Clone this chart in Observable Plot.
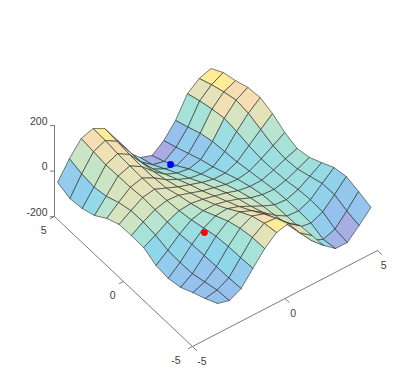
<!DOCTYPE html>
<html><head><meta charset="utf-8">
<style>html,body{margin:0;padding:0;background:#fff}svg{display:block}</style>
<script src="https://cdn.jsdelivr.net/npm/d3@7"></script>
<script src="https://cdn.jsdelivr.net/npm/@observablehq/plot@0.6"></script>
</head><body>
<script>
// surface grid: row = y index (front to back), column = x index (left to right)
const gridStep = 10 / 13;
const zRows = [
[-92,-105,-82,-26,28,68,79,46,-18,-83,-120,-121,-78,-30],
[-105,-96,-72,-16,40,72,68,24,-40,-96,-116,-100,-52,1],
[-114,-96,-60,-4,44,68,52,8,-40,-76,-84,-64,-20,28],
[-126,-96,-48,4,40,52,32,0,-36,-64,-68,-48,-8,31],
[-123,-84,-36,4,28,32,16,-8,-32,-52,-56,-40,-12,18],
[-104,-68,-28,4,16,16,4,-12,-32,-44,-48,-36,-16,6],
[-65,-40,-12,8,12,4,-8,-20,-36,-44,-44,-28,-8,9],
[-50,-20,4,16,12,-4,-20,-32,-44,-48,-40,-16,12,40],
[-38,-8,20,28,8,-12,-28,-44,-56,-56,-36,4,44,83],
[-47,-8,28,40,16,-16,-40,-60,-68,-64,-28,28,76,114],
[-68,-16,40,56,28,-16,-52,-72,-80,-68,-20,48,96,122],
[-73,-12,52,72,44,-12,-64,-88,-100,-76,-20,52,96,116],
[-66,8,72,92,64,0,-68,-104,-116,-84,-28,52,92,116],
[-34,36,92,107,82,14,-63,-108,-125,-90,-34,48,84,99]
];
// colour level of each face
const cRows = [
[1,1,1.5,3,5,7,6.8,5.5,4,2.2,.4,.1,1.2],
[1,1.2,2,3,4.5,6,6.5,5.5,4,2.8,1.5,1,1.3],
[1,1.2,2,3,4.2,5.5,6,5,4,3,2.2,1.8,1.8],
[1.2,1.5,2.2,3,4,5,5.2,4.5,3.8,3,2.5,2.3,2.3],
[1.5,2,2.5,3.2,4,4.8,4.8,4.2,3.6,3,2.6,2.6,2.7],
[2,2.5,3,3.5,4.2,4.8,4.6,4,3.4,2.8,2.6,2.6,3],
[3,3.5,4,4.3,4.7,4.8,4.4,3.8,3,2.6,2.5,2.6,3],
[4,4.3,4.6,4.8,5,4.8,4.2,3.5,2.7,2.4,2.4,2.8,3.5],
[4.5,4.8,5,5,4.8,4.4,3.8,3,2.4,2.1,2.4,3.4,5],
[3.5,4.5,5,5.2,4.8,4.2,3.4,2.6,2,1.8,2.6,4.5,6],
[2.2,4,5.2,5.5,4.9,4,3,2,1.4,1.4,4,5.8,6],
[1.7,3.8,5.6,6,5.2,4,2.5,1.3,1.1,1.6,3,5,7],
[1.6,4,6,7,6,4.5,2,.2,0,1,3,5,7]
];
const colorLevels = [0,1,2,3,4,5,6,7];
const colorRamp = ["#a2a6e0","#8fbcec","#87d3ea","#a0e0d6","#c8e3c0","#e2e0b4","#f6dcac","#fdeb90"];
const points3d = [{name:"min A",x:-2.88,y:-2.15,z:2,color:"#ff0000"},{name:"min B",x:1.0,y:3.69,z:-100,color:"#0000ff"}];
const xTicks = [-5,0,5], yTicks = [-5,0,5], zTicks = [-200,0,200];

// view: two orthographic bases, one for the surface and one for the axes box
const surfX = (x,y) => 217 + 15.34*(x+5) - 15.99*(y+5);
const surfY = (x,y,z) => 280 - 8.06*(x+5) - 10.66*(y+5) - z/4;
const boxX = (x,y) => 192 + 18.5*(x+5) - 13.8*(y+5);
const boxY = (x,y,z) => 346 - 9.6*(x+5) - 13*(y+5) - 0.2275*(z+200);

const faces = [];
cRows.forEach((row,j)=>row.forEach((c,i)=>faces.push({i,j,c})));
faces.sort((a,b)=>(6.2*b.i+8.2*b.j)-(6.2*a.i+8.2*a.j));
const cellPts = [];
faces.forEach((f,k)=>{
  [[0,0],[1,0],[1,1],[0,1],[0,0]].forEach(([di,dj])=>{
    const i=f.i+di,j=f.j+dj,x=-5+i*gridStep,y=-5+j*gridStep,z=zRows[j][i];
    cellPts.push({cell:k,c:f.c,px:surfX(x,y),py:surfY(x,y,z)});
  });
});
const boxPt = (x,y,z,seg)=>({px:boxX(x,y),py:boxY(x,y,z),seg});
const axisLines = [
  boxPt(-5,5,-200,"z"),boxPt(-5,5,200,"z"),
  boxPt(-5,5,-200,"y"),boxPt(-5,-5,-200,"y"),
  boxPt(-5,-5,-200,"x"),boxPt(5,-5,-200,"x")
];
xTicks.forEach(t=>axisLines.push(boxPt(t,-5,-200,"tx"+t),boxPt(t,-5.3,-200,"tx"+t)));
yTicks.forEach(t=>axisLines.push(boxPt(-5,t,-200,"ty"+t),boxPt(-5.22,t,-200,"ty"+t)));
zTicks.forEach(t=>axisLines.push(boxPt(-5,5,t,"tz"+t),boxPt(-5.15,5.1,t,"tz"+t)));

const labels = [
  ...xTicks.map(t=>({t,px:boxX(t,-5)+(t==-5?14:t==0?11:9),py:boxY(t,-5,-200)+15})),
  ...yTicks.map(t=>({t,px:boxX(-5,t)-(t==-5?12:8),py:boxY(-5,t,-200)+14})),
  ...zTicks.map(t=>({t,px:boxX(-5,5)-7,py:boxY(-5,5,t)-4}))
];
const plot = Plot.plot({
  width:415,height:388,margin:0,
  x:{type:"linear",domain:[0,415],range:[0,415],axis:null},
  y:{type:"linear",domain:[0,388],range:[0,388],axis:null},
  color:{type:"linear",domain:colorLevels,range:colorRamp},
  style:{fontFamily:"'Liberation Sans',Arial,sans-serif",background:"#fff",overflow:"visible"},
  marks:[
    Plot.line(axisLines,{x:"px",y:"py",z:"seg",stroke:"#6e6e6e",strokeWidth:0.9}),
    Plot.line(cellPts,{x:"px",y:"py",z:"cell",fill:"c",fillOpacity:0.93,stroke:"#2e3330",strokeOpacity:0.75,strokeWidth:0.85,strokeLinejoin:"round"}),
    Plot.dot(points3d,{x:d=>surfX(d.x,d.y),y:d=>surfY(d.x,d.y,d.z),r:3.4,fill:"color",stroke:"none"}),
    Plot.text(labels,{x:"px",y:"py",text:d=>String(d.t),fontSize:10.5,fill:"#404040",textAnchor:"end"})
  ]
});
document.body.appendChild(plot);
</script>
</body></html>
